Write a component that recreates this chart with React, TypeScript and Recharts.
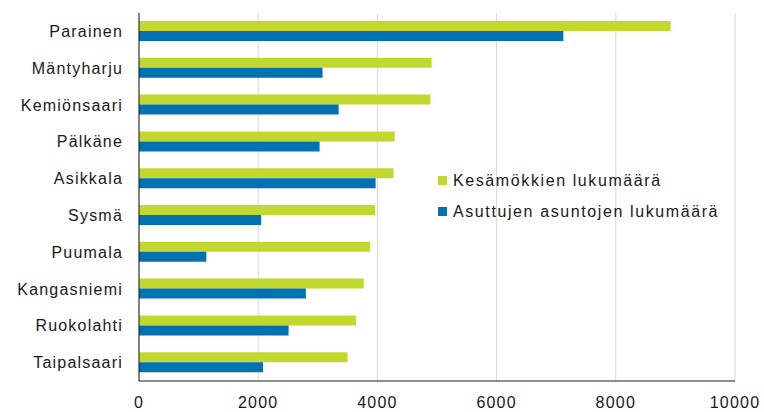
import React from 'react';
import { BarChart, Bar, XAxis, YAxis, CartesianGrid } from 'recharts';

// Municipalities, largest number of summer cottages first
const kunnat = [
    'Parainen',
    'Mäntyharju',
    'Kemiönsaari',
    'Pälkäne',
    'Asikkala',
    'Sysmä',
    'Puumala',
    'Kangasniemi',
    'Ruokolahti',
    'Taipalsaari'
];
const kesamokit = [8920, 4910, 4890, 4290, 4270, 3960, 3880, 3770, 3640, 3500];
const asutut = [7120, 3080, 3350, 3030, 3970, 2050, 1130, 2800, 2510, 2080];
const xTicks = [0, 2000, 4000, 6000, 8000, 10000];

const series = [
    { key: 'Kesämökkien lukumäärä', values: kesamokit, color: '#c2d82e' },
    { key: 'Asuttujen asuntojen lukumäärä', values: asutut, color: '#0071b1' }
];

const FONT = '"Liberation Sans", Arial, sans-serif';
const textStyle = { fill: '#1a1a1a', fontSize: 16, fontFamily: FONT, letterSpacing: 1.2 };

const chartData = kunnat.map((kunta, i) => {
    const row: Record<string, string | number> = { kunta };
    series.forEach(s => { row[s.key] = s.values[i]; });
    return row;
});

const App: React.FC = () => {
    return (
        <div style={{ position: 'absolute', left: 0, top: 0, width: 764, height: 412, background: '#fff' }}>
            <BarChart
                width={764}
                height={412}
                data={chartData}
                layout="vertical"
                margin={{ top: 13, right: 29, left: 0, bottom: 0 }}
                barSize={10}
                barGap={0}
            >
                <CartesianGrid horizontal={false} stroke="#d9d9d9" />
                <XAxis
                    type="number"
                    domain={[0, 10000]}
                    ticks={xTicks}
                    height={31}
                    tickLine={false}
                    tickSize={0}
                    tickMargin={16}
                    axisLine={{ stroke: '#1a1a1a' }}
                    tick={textStyle}
                />
                <YAxis
                    type="category"
                    dataKey="kunta"
                    width={139}
                    tickLine={false}
                    tickSize={0}
                    tickMargin={16}
                    axisLine={{ stroke: '#1a1a1a' }}
                    tick={textStyle}
                />
                {series.map(s => (
                    <Bar key={s.key} dataKey={s.key} fill={s.color} isAnimationActive={false} />
                ))}
            </BarChart>
            {/* legend sits inside the plot area, right of the short bars */}
            <div style={{ position: 'absolute', left: 438, top: 165, fontFamily: FONT, fontSize: 16, letterSpacing: 1.6, color: '#1a1a1a' }}>
                {series.map(s => (
                    <div key={s.key} style={{ display: 'flex', alignItems: 'center', height: 31 }}>
                        <span style={{ width: 9, height: 9, background: s.color, marginRight: 6, display: 'inline-block' }} />
                        <span>{s.key}</span>
                    </div>
                ))}
            </div>
        </div>
    );
};

export default App;
